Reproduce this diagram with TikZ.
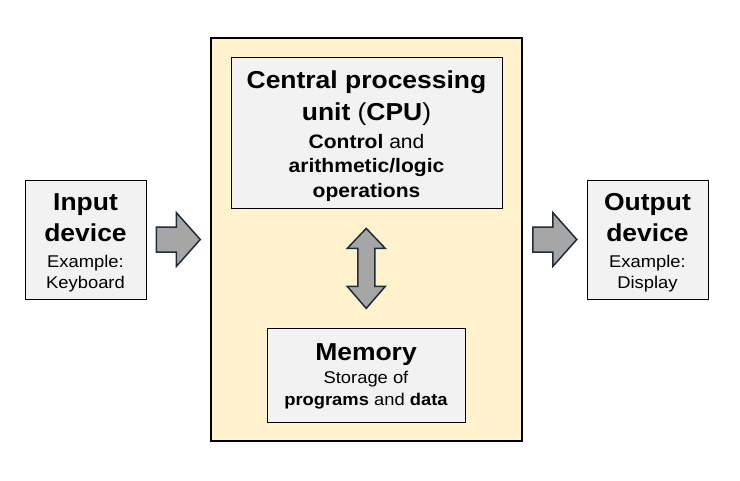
\documentclass[tikz,border=0pt]{standalone}
\usepackage{fontspec}
\setmainfont{Liberation Sans}[FakeStretch=1.08]
\usetikzlibrary{calc}
\definecolor{panel}{HTML}{FFF2CC}
\definecolor{boxgray}{HTML}{F2F2F2}
\definecolor{arrowfill}{HTML}{A6A6A6}
\definecolor{arrowline}{HTML}{1F2D3A}
\begin{document}
\begin{tikzpicture}[x=1pt,y=-1pt,
  graybox/.style={draw=black, line width=1pt, fill=boxgray, inner sep=0pt},
  bigtxt/.style={font=\fontsize{24.5pt}{29pt}\selectfont\bfseries, anchor=base, inner sep=0pt},
  smalltxt/.style={font=\fontsize{17pt}{20pt}\selectfont, anchor=base, inner sep=0pt},
  cputxt/.style={font=\fontsize{19.5pt}{23pt}\selectfont, anchor=base, inner sep=0pt},
  blockarrow/.style={draw=arrowline, fill=arrowfill, line width=1.5pt, line join=miter}]
\useasboundingbox (0,0) rectangle (740,480);
\fill[white] (0,0) rectangle (740,480);

% main panel
\node[draw=black, line width=2pt, fill=panel, minimum width=311pt, minimum height=403pt, inner sep=0pt] (main) at (366.5,239.5) {};

% boxes
\node[graybox, minimum width=121pt, minimum height=119pt] (inbox) at (85.5,239.5) {};
\node[graybox, minimum width=121pt, minimum height=119pt] (outbox) at (647.5,239.5) {};
\node[graybox, minimum width=271pt, minimum height=151pt] (cpu) at (366.5,133.3) {};
\node[graybox, minimum width=198pt, minimum height=94pt] (mem) at (366,375) {};

% input text
\node[bigtxt] (in1) at (85.5,210) {Input};
\node[bigtxt] (in2) at (85.5,241) {device};
\node[smalltxt] (in3) at (85.5,267) {Example:};
\node[smalltxt] (in4) at (85.5,288.5) {Keyboard};

% output text
\node[bigtxt] (out1) at (647.5,210) {Output};
\node[bigtxt] (out2) at (647.5,241) {device};
\node[smalltxt] (out3) at (647.5,267) {Example:};
\node[smalltxt] (out4) at (647.5,288.5) {Display};

% cpu text
\node[bigtxt] (c1) at (366.5,88) {Central processing};
\node[bigtxt] (c2) at (366.5,120.5) {unit {\mdseries(}CPU{\mdseries)}};
\node[cputxt] (c3) at (366.5,148) {\bfseries Control\mdseries{} and};
\node[cputxt] (c4) at (366.5,172.5) {\bfseries arithmetic/logic};
\node[cputxt] (c5) at (366.5,197.5) {\bfseries operations};

% memory text
\node[bigtxt] (m1) at (366,360) {Memory};
\node[smalltxt] (m2) at (366,383) {Storage of};
\node[smalltxt] (m3) at (366,405) {\textbf{programs} and \textbf{data}};

% arrows
\coordinate (a1) at ($(inbox.east)!0.5!(main.west)$);
\coordinate (a2) at ($(main.east)!0.5!(outbox.west)$);
\coordinate (a3) at ($(cpu.south)!0.5!(mem.north)$);
\draw[blockarrow, shift={(a1)}] (-22,-12.5) -- (-2,-12.5) -- (-2,-27) -- (22,0) -- (-2,27) -- (-2,12.5) -- (-22,12.5) -- cycle;
\draw[blockarrow, shift={(a2)}] (-22,-12.5) -- (-2,-12.5) -- (-2,-27) -- (22,0) -- (-2,27) -- (-2,12.5) -- (-22,12.5) -- cycle;
\draw[blockarrow, shift={(a3)}] (0,-40) -- (19,-20) -- (8.5,-20) -- (8.5,18) -- (19,18) -- (0,40) -- (-19,18) -- (-8.5,18) -- (-8.5,-20) -- (-19,-20) -- cycle;
\end{tikzpicture}
\end{document}
